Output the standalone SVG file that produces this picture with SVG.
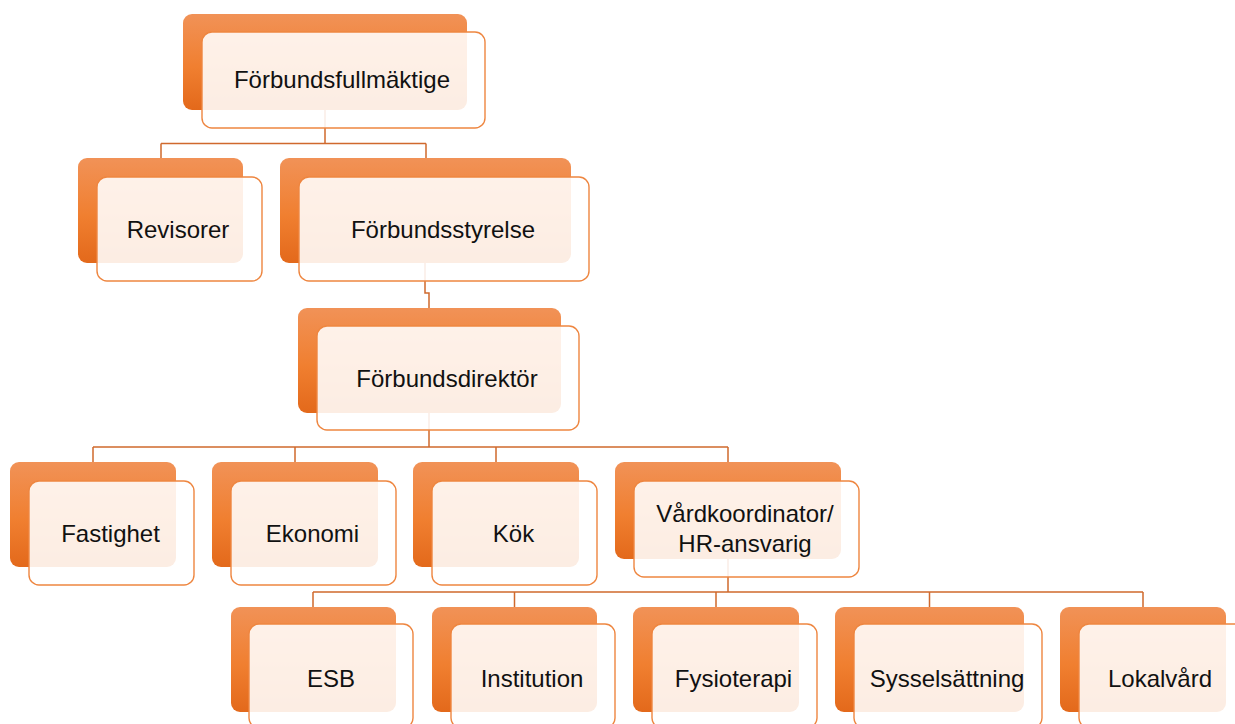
<svg xmlns="http://www.w3.org/2000/svg" width="1235" height="724" viewBox="0 0 1235 724">
<defs>
<linearGradient id="og" x1="0" y1="0" x2="0" y2="1">
<stop offset="0" stop-color="#F19257"/>
<stop offset="0.55" stop-color="#F07F30"/>
<stop offset="1" stop-color="#E3691B"/>
</linearGradient>
<style>
.back{fill:url(#og);stroke:none}
.front{fill:#FFFFFF;fill-opacity:0.88;stroke:#EE8640;stroke-width:1.4}
.lbl{font-family:"Liberation Sans",Arial,sans-serif;font-size:24px;fill:#111111;text-anchor:middle}
.conn{fill:none;stroke:#D0692D;stroke-width:1.5}
</style>
</defs>
<rect width="1235" height="724" fill="#FFFFFF"/>
<g id="connectors" class="conn">
<path d="M325,110 V143.5 M161,143.5 H426 M161,143.5 V158 M426,143.5 V158"/>
<path d="M425,263 V293 H429 V308"/>
<path d="M429,413 V447 M93,447 H728 M93,447 V462 M295,447 V462 M496,447 V462 M728,447 V462"/>
<path d="M728,559 V592 M313,592 H1143 M313,592 V607 M514.5,592 V607 M716,592 V607 M929.5,592 V607 M1143,592 V607"/>
</g>
<g id="n-forbundsfullmaktige">
<rect class="back" x="183" y="14" width="284" height="96" rx="9"/>
<rect class="front" x="202" y="32" width="283" height="96" rx="10"/>
<text class="lbl" x="342" y="88">Förbundsfullmäktige</text>
</g>
<g id="n-revisorer">
<rect class="back" x="78" y="158" width="165" height="105" rx="9"/>
<rect class="front" x="97" y="177" width="165" height="104" rx="10"/>
<text class="lbl" x="178" y="237.5">Revisorer</text>
</g>
<g id="n-forbundsstyrelse">
<rect class="back" x="280" y="158" width="291" height="105" rx="9"/>
<rect class="front" x="299" y="177" width="290" height="104" rx="10"/>
<text class="lbl" x="443" y="237.5">Förbundsstyrelse</text>
</g>
<g id="n-forbundsdirektor">
<rect class="back" x="298" y="308" width="263" height="105" rx="9"/>
<rect class="front" x="317" y="326" width="262" height="104" rx="10"/>
<text class="lbl" x="447" y="386.5">Förbundsdirektör</text>
</g>
<g id="n-fastighet">
<rect class="back" x="10" y="462" width="166" height="105" rx="9"/>
<rect class="front" x="29" y="481" width="165" height="104" rx="10"/>
<text class="lbl" x="110.5" y="541.5">Fastighet</text>
</g>
<g id="n-ekonomi">
<rect class="back" x="212" y="462" width="166" height="105" rx="9"/>
<rect class="front" x="231" y="481" width="165" height="104" rx="10"/>
<text class="lbl" x="312.5" y="541.5">Ekonomi</text>
</g>
<g id="n-kok">
<rect class="back" x="413" y="462" width="166" height="105" rx="9"/>
<rect class="front" x="432" y="481" width="165" height="104" rx="10"/>
<text class="lbl" x="513.5" y="541.5">Kök</text>
</g>
<g id="n-vardkoordinator">
<rect class="back" x="615" y="462" width="226" height="97" rx="9"/>
<rect class="front" x="634" y="481" width="225" height="96" rx="10"/>
<text class="lbl" x="745" y="522">Vårdkoordinator/</text>
<text class="lbl" x="745" y="552">HR-ansvarig</text>
</g>
<g id="n-esb">
<rect class="back" x="231" y="607" width="165" height="105" rx="9"/>
<rect class="front" x="249" y="624" width="164" height="104" rx="10"/>
<text class="lbl" x="331" y="687">ESB</text>
</g>
<g id="n-institution">
<rect class="back" x="432" y="607" width="165" height="105" rx="9"/>
<rect class="front" x="451" y="624" width="164" height="104" rx="10"/>
<text class="lbl" x="532" y="687">Institution</text>
</g>
<g id="n-fysioterapi">
<rect class="back" x="633" y="607" width="166" height="105" rx="9"/>
<rect class="front" x="652" y="624" width="165" height="104" rx="10"/>
<text class="lbl" x="733.5" y="687">Fysioterapi</text>
</g>
<g id="n-sysselsattning">
<rect class="back" x="835" y="607" width="189" height="105" rx="9"/>
<rect class="front" x="854" y="624" width="188" height="104" rx="10"/>
<text class="lbl" x="947" y="687">Sysselsättning</text>
</g>
<g id="n-lokalvard">
<rect class="back" x="1060" y="607" width="166" height="105" rx="9"/>
<rect class="front" x="1079" y="624" width="165" height="104" rx="10"/>
<text class="lbl" x="1160" y="687">Lokalvård</text>
</g>
</svg>
